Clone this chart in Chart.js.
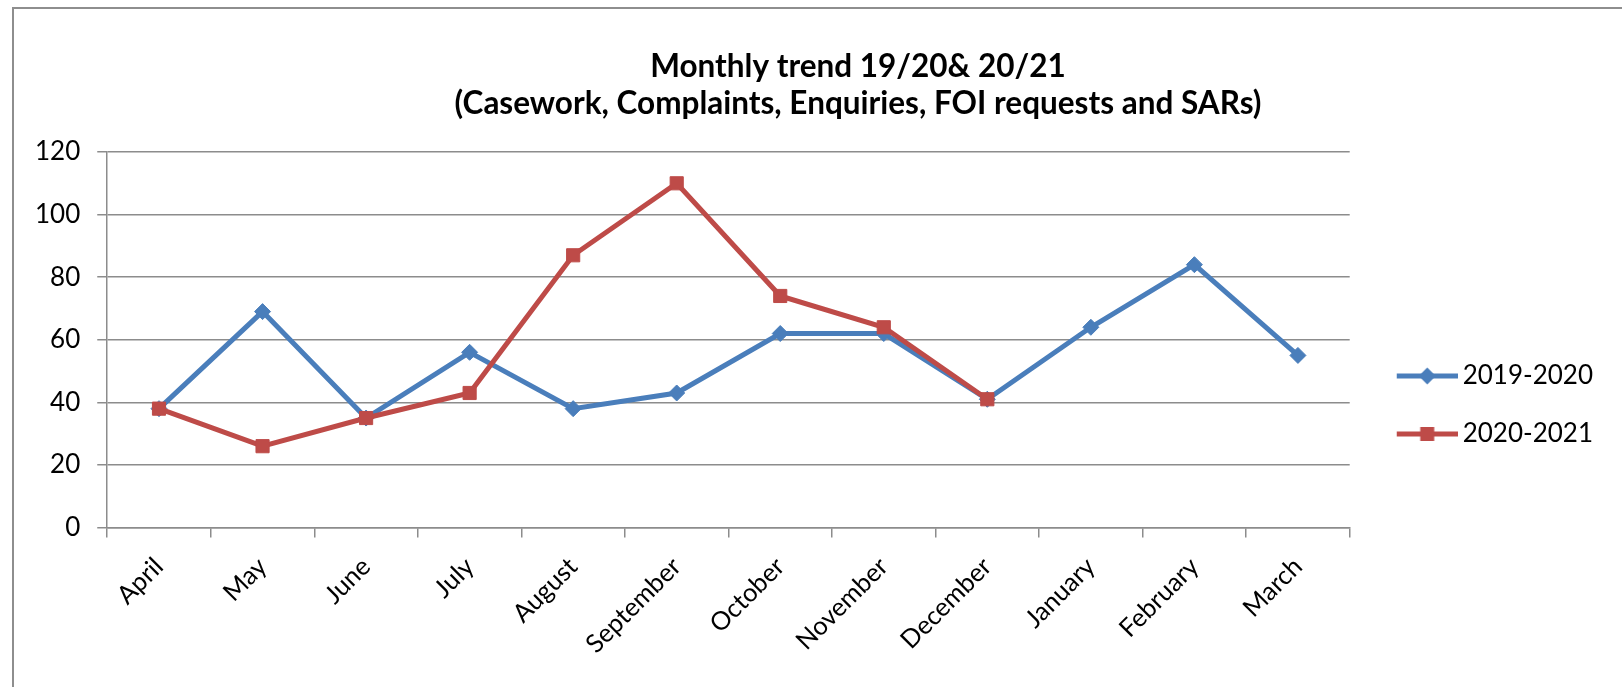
<!DOCTYPE html>
<html><head><meta charset="utf-8">
<script src="https://cdn.jsdelivr.net/npm/chart.js@4"></script>
<style>
html,body{margin:0;padding:0;background:#fff;overflow:hidden;width:1622px;height:687px;}
#frame{position:absolute;left:12px;top:7px;width:1700px;height:800px;border:2px solid #8e8e8e;box-sizing:border-box;}
#wrap{position:absolute;left:0;top:0;width:1622px;height:687px;}
</style></head>
<body><div id="frame"></div><div id="wrap"><canvas id="c" width="1622" height="687"></canvas></div>
<script>
const titleLines = ['Monthly trend 19/20& 20/21', '(Casework, Complaints, Enquiries, FOI requests and SARs)'];
const categories = ['April','May','June','July','August','September','October','November','December','January','February','March'];
const seriesNames = ['2019-2020', '2020-2021'];
const values1920 = [38, 69, 35, 56, 38, 43, 62, 62, 41, 64, 84, 55];
const values2021 = [38, 26, 35, 43, 87, 110, 74, 64, 41, null, null, null];
const yTickValues = [0, 20, 40, 60, 80, 100, 120];

const BLUE = '#4a7ebb', RED = '#be4b48';
const FONT = 'Lato';
const LINE_W = 5;
const TITLE_CENTER_X = 858;
const TITLE_BASELINES = [77, 113.5];

function legendIcon(color, style) {
  const c = document.createElement('canvas');
  c.width = 84; c.height = 24;
  const g = c.getContext('2d');
  g.strokeStyle = color; g.lineWidth = LINE_W;
  g.beginPath(); g.moveTo(23, 12); g.lineTo(84, 12); g.stroke();
  g.fillStyle = color;
  const cx = 53.5, cy = 12;
  g.beginPath();
  if (style === 'diamond') {
    g.moveTo(cx, cy - 8.5); g.lineTo(cx + 8.5, cy); g.lineTo(cx, cy + 8.5); g.lineTo(cx - 8.5, cy); g.closePath();
  } else {
    g.rect(cx - 7, cy - 7, 14, 14);
  }
  g.fill();
  return c;
}
const legendIcons = [legendIcon(BLUE, 'diamond'), legendIcon(RED, 'square')];

const titlePlugin = {
  id: 'frameTitle',
  afterDraw(ch) {
    const ctx = ch.ctx;
    ctx.save();
    ctx.fillStyle = '#000';
    ctx.font = `bold 31.5px ${FONT}`;
    ctx.textAlign = 'center';
    ctx.textBaseline = 'alphabetic';
    titleLines.forEach((t, i) => ctx.fillText(t, TITLE_CENTER_X, TITLE_BASELINES[i]));
    ctx.restore();
  }
};

const chart = new Chart(document.getElementById('c'), {
  type: 'line',
  data: {
    labels: categories,
    datasets: [
      { label: seriesNames[0], data: values1920, borderColor: BLUE, backgroundColor: BLUE,
        borderWidth: LINE_W, pointStyle: 'rectRot', pointRadius: 8, pointBorderWidth: 1, pointBorderColor: BLUE,
        tension: 0, fill: false, order: 1 },
      { label: seriesNames[1], data: values2021, borderColor: RED, backgroundColor: RED,
        borderWidth: LINE_W, pointStyle: 'rect', pointRadius: 9.3, pointBorderWidth: 1, pointBorderColor: RED,
        tension: 0, fill: false, order: 0 }
    ]
  },
  plugins: [titlePlugin],
  options: {
    responsive: false,
    animation: false,
    layout: { padding: { top: 152, left: 18, right: 19, bottom: 13.6 } },
    plugins: {
      tooltip: { enabled: false },
      title: { display: false },
      legend: {
        position: 'right', align: 'start',
        title: { display: true, text: ' ', font: { size: 10 }, padding: { top: 167, bottom: 0 } },
        labels: {
          usePointStyle: true, pointStyleWidth: 68, padding: 32, color: '#000',
          font: { family: FONT, size: 26 },
          sort: (a, b) => a.datasetIndex - b.datasetIndex,
          generateLabels(ch) {
            const items = Chart.defaults.plugins.legend.labels.generateLabels(ch);
            items.forEach((it) => { it.pointStyle = legendIcons[it.datasetIndex]; });
            return items;
          }
        }
      }
    },
    scales: {
      x: {
        offset: true,
        ticks: { maxRotation: 45, minRotation: 45, autoSkip: false, padding: 14, color: '#000',
                 font: { family: FONT, size: 25.5 } },
        grid: { offset: true, drawOnChartArea: false, drawTicks: true, tickLength: 10, color: '#8c8c8c', lineWidth: 1.5 },
        border: { display: true, color: '#8c8c8c', width: 1.5 }
      },
      y: {
        min: 0, max: 120,
        afterBuildTicks: (axis) => { axis.ticks = yTickValues.map(v => ({ value: v })); },
        ticks: { padding: 17, color: '#000', font: { family: FONT, size: 26 } },
        grid: { color: '#8c8c8c', lineWidth: 1.5, tickLength: 10, drawTicks: true },
        border: { display: true, color: '#8c8c8c', width: 1.5 }
      }
    }
  }
});
</script>
</body></html>
